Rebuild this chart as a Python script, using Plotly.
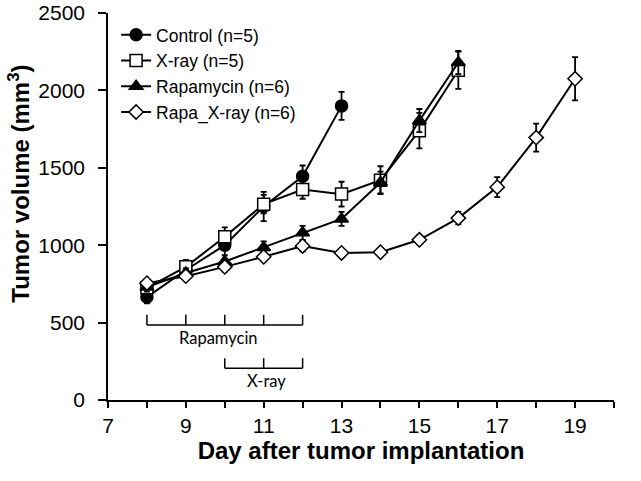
import plotly.graph_objects as go

days_control = [8, 9, 10, 11, 12, 13]
control = [665, 840, 1000, 1250, 1445, 1900]
control_err = [40, 40, 90, 95, 70, 90]

days_xray = [8, 9, 10, 11, 12, 13, 14, 15, 16]
xray = [725, 860, 1055, 1265, 1360, 1330, 1420, 1740, 2130]
xray_err = [30, 45, 60, 60, 60, 80, 90, 115, 120]

days_rapa = [8, 9, 10, 11, 12, 13, 14, 15, 16]
rapa = [730, 820, 895, 985, 1080, 1170, 1405, 1805, 2180]
rapa_err = [30, 30, 40, 40, 45, 45, 70, 75, 75]

days_combo = [8, 9, 10, 11, 12, 13, 14, 15, 16, 17, 18, 19]
combo = [755, 800, 860, 925, 995, 950, 955, 1035, 1175, 1375, 1695, 2075]
combo_err = [25, 25, 30, 30, 35, 25, 25, 30, 40, 65, 90, 140]

# treatment schedule brackets
rapa_days = [8, 9, 10, 11, 12]
xray_days = [10, 11, 12]
rapa_bracket_base, rapa_bracket_top = 485, 550
xray_bracket_base, xray_bracket_top = 205, 270

series = [
    ("Control (n=5)", days_control, control, control_err,
     dict(symbol="circle", size=12, color="black", line=dict(color="black", width=1.5))),
    ("X-ray (n=5)", days_xray, xray, xray_err,
     dict(symbol="square", size=12, color="white", line=dict(color="black", width=1.5))),
    ("Rapamycin (n=6)", days_rapa, rapa, rapa_err,
     dict(symbol="triangle-up", size=12, color="black", line=dict(color="black", width=1.5))),
    ("Rapa_X-ray (n=6)", days_combo, combo, combo_err,
     dict(symbol="diamond", size=11, color="white", line=dict(color="black", width=1.5))),
]

fig = go.Figure()
for i, (name, xs, ys, es, mk) in enumerate(series):
    fig.add_trace(go.Scatter(
        x=xs, y=ys, name=name, mode="lines+markers",
        line=dict(color="black", width=2),
        marker=mk,
        error_y=dict(type="data", array=es, visible=True, color="black",
                     thickness=1.8, width=3),
    ))

# brackets
for bdays, base, top in [(rapa_days, rapa_bracket_base, rapa_bracket_top),
                         (xray_days, xray_bracket_base, xray_bracket_top)]:
    fig.add_shape(type="line", xref="x", yref="y", x0=bdays[0], x1=bdays[-1],
                  y0=base, y1=base, line=dict(color="black", width=1.5))
    for d in bdays:
        fig.add_shape(type="line", xref="x", yref="y", x0=d, x1=d,
                      y0=base, y1=top, line=dict(color="black", width=1.5))

fig.add_annotation(x=sum(rapa_days) / len(rapa_days), y=rapa_bracket_base, yref="y", xref="x",
                   text="Rapamycin", showarrow=False, yanchor="top", yshift=-1, xshift=-6,
                   font=dict(family="Lato", size=16.5, color="black"))
fig.add_annotation(x=sum(xray_days) / len(xray_days), y=xray_bracket_base, yref="y", xref="x",
                   text="X-ray", showarrow=False, yanchor="top", yshift=-1, xshift=3,
                   font=dict(family="Lato", size=16.5, color="black"))

# y title
fig.add_annotation(x=-0.175, y=0.56, xref="paper", yref="paper",
                   text="<b>Tumor volume (mm<sup>3</sup>)</b>", textangle=-90,
                   showarrow=False, xanchor="center", yanchor="middle",
                   font=dict(family="Liberation Sans", size=24, color="black"))

fig.update_layout(
    width=641, height=481,
    margin=dict(l=108, r=27, t=13, b=81, autoexpand=False),
    plot_bgcolor="white", paper_bgcolor="white",
    font=dict(family="Liberation Sans", color="black"),
    showlegend=True,
    legend=dict(x=0.016, y=0.99, xanchor="left", yanchor="top",
                font=dict(family="Liberation Sans", size=17.5, color="black"),
                bgcolor="rgba(0,0,0,0)"),
    xaxis=dict(range=[7, 20], tick0=7, dtick=2, ticks="outside", ticklen=6,
               tickwidth=1.5, tickcolor="black", showline=True, linecolor="black",
               linewidth=1.5, showgrid=False, zeroline=False, automargin=False,
               tickfont=dict(family="Liberation Sans", size=21, color="black"),
               minor=dict(dtick=1, tick0=7, ticks="outside", ticklen=6, tickwidth=1.5,
                          tickcolor="black", showgrid=False),
               title=dict(text="<b>Day after tumor implantation</b>",
                          font=dict(family="Liberation Sans", size=24, color="black"),
                          standoff=6)),
    yaxis=dict(range=[0, 2500], dtick=500, ticks="outside", ticklen=8,
               tickwidth=1.5, tickcolor="black", showline=True, linecolor="black",
               linewidth=1.5, showgrid=False, zeroline=False, automargin=False,
               ticklabelstandoff=9, ticklabeloverflow="allow",
               tickfont=dict(family="Liberation Sans", size=21, color="black")),
)

# remove the browser's default 8px body margin so the figure fills the window
fig.write_html("out.html", config={"displayModeBar": False},
               post_script="document.body.style.margin='0px';")
